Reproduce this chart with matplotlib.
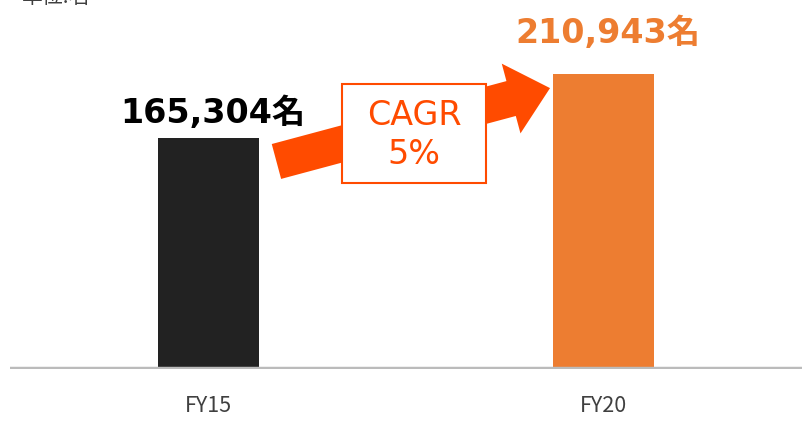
import matplotlib.pyplot as plt
from matplotlib.patches import Rectangle

plt.rcParams['font.family'] = ['DejaVu Sans', 'Noto Sans CJK JP']

# データ
years = ['FY15', 'FY20']
members = [165304, 210943]
bar_colors = ['#222222', '#ED7D31']
label_colors = ['#000000', '#ED7D31']
label_pad = [5.5, 17.5]  # ラベルと棒の間隔 (pt)
cagr_text = 'CAGR\n5%'
unit_text = '単位:名'

accent = '#FF4B00'

fig = plt.figure(figsize=(8.02, 4.26), dpi=100)
ax = fig.add_axes([10 / 802, 57 / 426, 792 / 802, 369 / 426])

x = list(range(len(years)))
ax.bar(x, members, width=0.256, color=bar_colors, zorder=2)
ax.axhline(0, color='#BBBBBB', lw=3.2, zorder=3)

for i, v in enumerate(members):
    ax.annotate(f'{v:,}名', (x[i], v), xytext=(3, label_pad[i]),
                textcoords='offset points', ha='center', va='bottom',
                fontsize=24, fontweight='bold', color=label_colors[i])

ax.set_xlim(-0.5025, 1.5025)
ax.set_ylim(0, 264040)
ax.set_xticks(x)
ax.set_xticklabels(years, fontsize=15.5, color='#404040',
                   family=['Noto Sans CJK JP', 'DejaVu Sans'])
ax.tick_params(axis='x', length=0, pad=19)
ax.set_yticks([])
for s in ax.spines.values():
    s.set_visible(False)

# 成長の矢印
ax.annotate('', xy=(0.8646, 201000), xytext=(0.172, 148500),
            arrowprops=dict(arrowstyle='simple,tail_width=2.6,head_width=5.2,head_length=2.9',
                            mutation_scale=10, fc=accent, ec='none',
                            shrinkA=0, shrinkB=0), zorder=4)

# CAGRボックス
ax.add_patch(Rectangle((0.4192, 0.504), 0.1818, 0.2683, transform=ax.transAxes,
                       fc='white', ec=accent, lw=1.5, zorder=5))
ax.text(0.4192 + 0.0909, 0.504 + 0.13, cagr_text, transform=ax.transAxes,
        ha='center', va='center', fontsize=24, color=accent,
        linespacing=1.2, zorder=6)

fig.text(22 / 802, 1 - 8 / 426, unit_text, ha='left', va='bottom',
         fontsize=15, color='#404040',
         family=['Noto Sans CJK JP', 'DejaVu Sans'])

fig.savefig('out.png', dpi=100)
